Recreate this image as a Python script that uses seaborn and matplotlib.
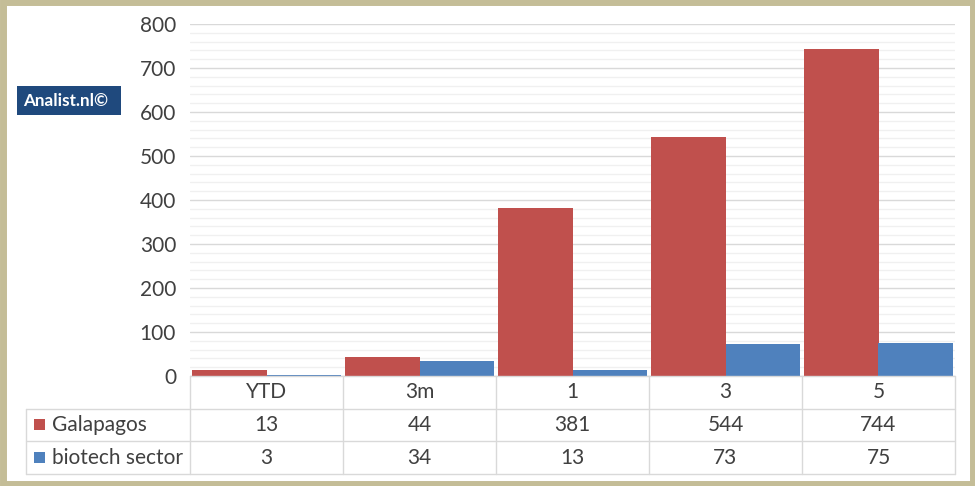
import matplotlib
matplotlib.use("Agg")
import matplotlib.pyplot as plt
import seaborn as sns
import pandas as pd
from matplotlib.patches import Rectangle
from matplotlib.lines import Line2D
from matplotlib.ticker import MultipleLocator

categories = ["YTD", "3m", "1", "3", "5"]
galapagos = [13, 44, 381, 544, 744]
biotech = [3, 34, 13, 73, 75]
series_names = ["Galapagos", "biotech sector"]
colors = ["#C0504D", "#4F81BD"]

sns.set_theme(style="white")
plt.rcParams['font.family'] = ['Lato', 'DejaVu Sans']

df = pd.DataFrame({
    "period": categories * 2,
    "value": galapagos + biotech,
    "series": [series_names[0]] * 5 + [series_names[1]] * 5,
})

W, H = 975, 486
fig = plt.figure(figsize=(W / 100, H / 100), dpi=100)
fig.patch.set_facecolor("white")

# frame
fig.add_artist(Rectangle((2.5 / W, 2.5 / H), 1 - 5 / W, 1 - 5 / H, transform=fig.transFigure,
                         fill=False, edgecolor="#C4BD97", linewidth=5))

x0, x1 = 190, 955
y_top, y_bot = 24, 376
ax = fig.add_axes([x0 / W, 1 - y_bot / H, (x1 - x0) / W, (y_bot - y_top) / H])

sns.barplot(data=df, x="period", y="value", hue="series", palette=colors,
            width=0.97, ax=ax, legend=False, saturation=1, edgecolor="none")
ax.set_xlim(-0.5, 4.5)
ax.set_ylim(0, 800)
ax.yaxis.set_major_locator(MultipleLocator(100))
ax.yaxis.set_minor_locator(MultipleLocator(20))
ax.grid(which="major", axis="y", color="#D9D9D9", linewidth=1)
ax.grid(which="minor", axis="y", color="#F0F0F0", linewidth=1)
ax.set_axisbelow(True)
for s in ax.spines.values():
    s.set_visible(False)
ax.set_xlabel("")
ax.set_ylabel("")
ax.set_xticks([])
ax.tick_params(axis="y", which="both", length=0, labelsize=15, labelcolor="#404040", pad=10)

# table
grid_c = "#D9D9D9"
row_y = [376, 409, 441, 474]
tl = 26
col_edges = [x0 + i * (x1 - x0) / 5 for i in range(6)]

def hline(y, xa, xb):
    fig.add_artist(Line2D([xa / W, xb / W], [1 - y / H, 1 - y / H], transform=fig.transFigure,
                          color=grid_c, linewidth=1))

def vline(x, ya, yb):
    fig.add_artist(Line2D([x / W, x / W], [1 - ya / H, 1 - yb / H], transform=fig.transFigure,
                          color=grid_c, linewidth=1))

hline(row_y[0], x0, x1)
for y in row_y[1:]:
    hline(y, tl, x1)
for i, x in enumerate(col_edges):
    vline(x, row_y[0], row_y[3])
vline(tl, row_y[1], row_y[3])

txt_kw = dict(fontsize=15, color="#404040", ha="center", va="center")
for i, c in enumerate(categories):
    xc = (col_edges[i] + col_edges[i + 1]) / 2
    fig.text(xc / W, 1 - (row_y[0] + row_y[1]) / 2 / H, c, **txt_kw)
    fig.text(xc / W, 1 - (row_y[1] + row_y[2]) / 2 / H, str(galapagos[i]), **txt_kw)
    fig.text(xc / W, 1 - (row_y[2] + row_y[3]) / 2 / H, str(biotech[i]), **txt_kw)

for r, (name, col) in enumerate(zip(series_names, colors)):
    yc = (row_y[r + 1] + row_y[r + 2]) / 2
    fig.add_artist(Rectangle((34 / W, 1 - (yc + 5) / H), 11 / W, 11 / H, transform=fig.transFigure,
                             facecolor=col, edgecolor="none"))
    fig.text(52 / W, 1 - yc / H, name, fontsize=15, color="#404040", ha="left", va="center")

# Analist label
fig.add_artist(Rectangle((17 / W, 1 - 115 / H), 104 / W, 29 / H, transform=fig.transFigure,
                         facecolor="#1F497D", edgecolor="none"))
fig.text(66 / W, 1 - 101 / H, "Analist.nl©", fontsize=12.3, fontweight="bold", color="white",
         ha="center", va="center")

fig.savefig("out.png", dpi=100)
